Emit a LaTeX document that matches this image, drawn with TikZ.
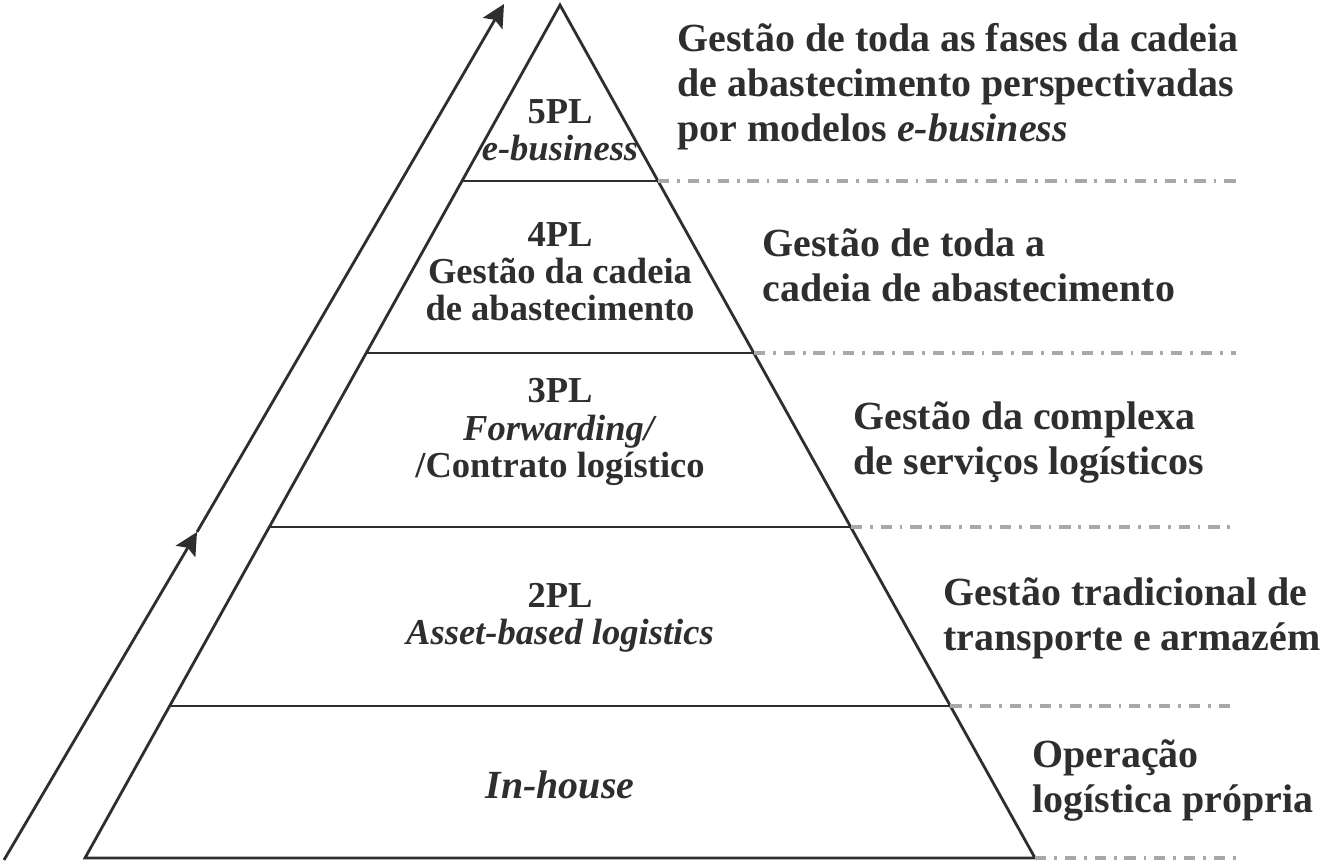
\documentclass[tikz,border=0pt]{standalone}
\usepackage{fontspec}
\setmainfont{Liberation Serif}
\usetikzlibrary{arrows.meta, calc, positioning}
\definecolor{ink}{HTML}{2E2E2E}
\definecolor{guidegray}{HTML}{A8A8A8}
\tikzset{
  level/.style={draw=ink, line width=1pt},
  guide/.style={draw=guidegray, line width=1.1pt, dash pattern=on 4pt off 2.8pt on 1pt off 2.8pt},
  rise/.style={draw=ink, line width=1pt, -{Stealth[length=8pt,width=8pt,inset=1.5pt]}},
  tier/.style={font=\fontsize{13}{13.2}\selectfont\bfseries, text=ink, align=center, inner sep=0pt},
  note/.style={font=\fontsize{14.2}{16}\selectfont\bfseries, text=ink, align=left, anchor=west, inner sep=0pt}
}

\begin{document}
\begin{tikzpicture}
    \useasboundingbox (0,0) rectangle (16.55,10.7875);
    % Pyramid outline
    \coordinate (apex) at (7.0,10.725);
    \coordinate (bl) at (1.0625,0.0625);
    \coordinate (br) at (12.9375,0.0625);
    \coordinate (edge) at (15.45,0);
    \draw[level, line join=miter] (bl) -- (apex) -- (br) -- cycle;

    % Levels and guide lines
    \foreach \t/\n in {0.2063/5, 0.408/4, 0.612/3, 0.8218/2} {
        \coordinate (l\n) at ($(apex)!\t!(bl)$);
        \coordinate (r\n) at ($(apex)!\t!(br)$);
        \draw[level] (l\n) -- (r\n);
        \draw[guide] (r\n) -- (r\n -| edge);
    }
    \draw[guide] (br) -- (br -| edge);

    % Rising arrow
    \coordinate (a_low) at (0.05,0.0375);
    \coordinate (a_mid) at (2.4625,4.1375);
    \coordinate (a_top) at (6.3,10.7375);
    \draw[rise] (a_low) -- (a_mid);
    \draw[rise] (a_mid) -- (a_top);

    % Pyramid labels
    \node[tier] (t5) at (7.0,9.16) {5PL\\\textit{e-business}};
    \node[tier] (t4) at (7.0,7.3875) {4PL\\Gestão da cadeia\\de abastecimento};
    \node[tier] (t3) at (7.0,5.3875) {3PL\\\textit{Forwarding/}\\/Contrato logístico};
    \node[tier] (t2) at (7.0,3.06) {2PL\\\textit{Asset-based logistics}};
    \node[tier, font=\fontsize{14.2}{16}\selectfont\bfseries] (t1) at (7.0,0.975) {\textit{In-house}};

    % Descriptions
    \node[note] (n5) at (8.4625,9.7) {Gestão de toda as fases da cadeia\\de abastecimento perspectivadas\\por modelos \textit{e-business}};
    \node[note] (n4) at (9.525,7.47) {Gestão de toda a\\cadeia de abastecimento};
    \node[note] (n3) at (10.6625,5.256) {Gestão da complexa\\de serviços logísticos};
    \node[note] (n2) at (11.7875,3.056) {Gestão tradicional de\\transporte e armazém};
    \node[note] (n1) at (12.9,1.0375) {Operação\\logística própria};
\end{tikzpicture}
\end{document}
